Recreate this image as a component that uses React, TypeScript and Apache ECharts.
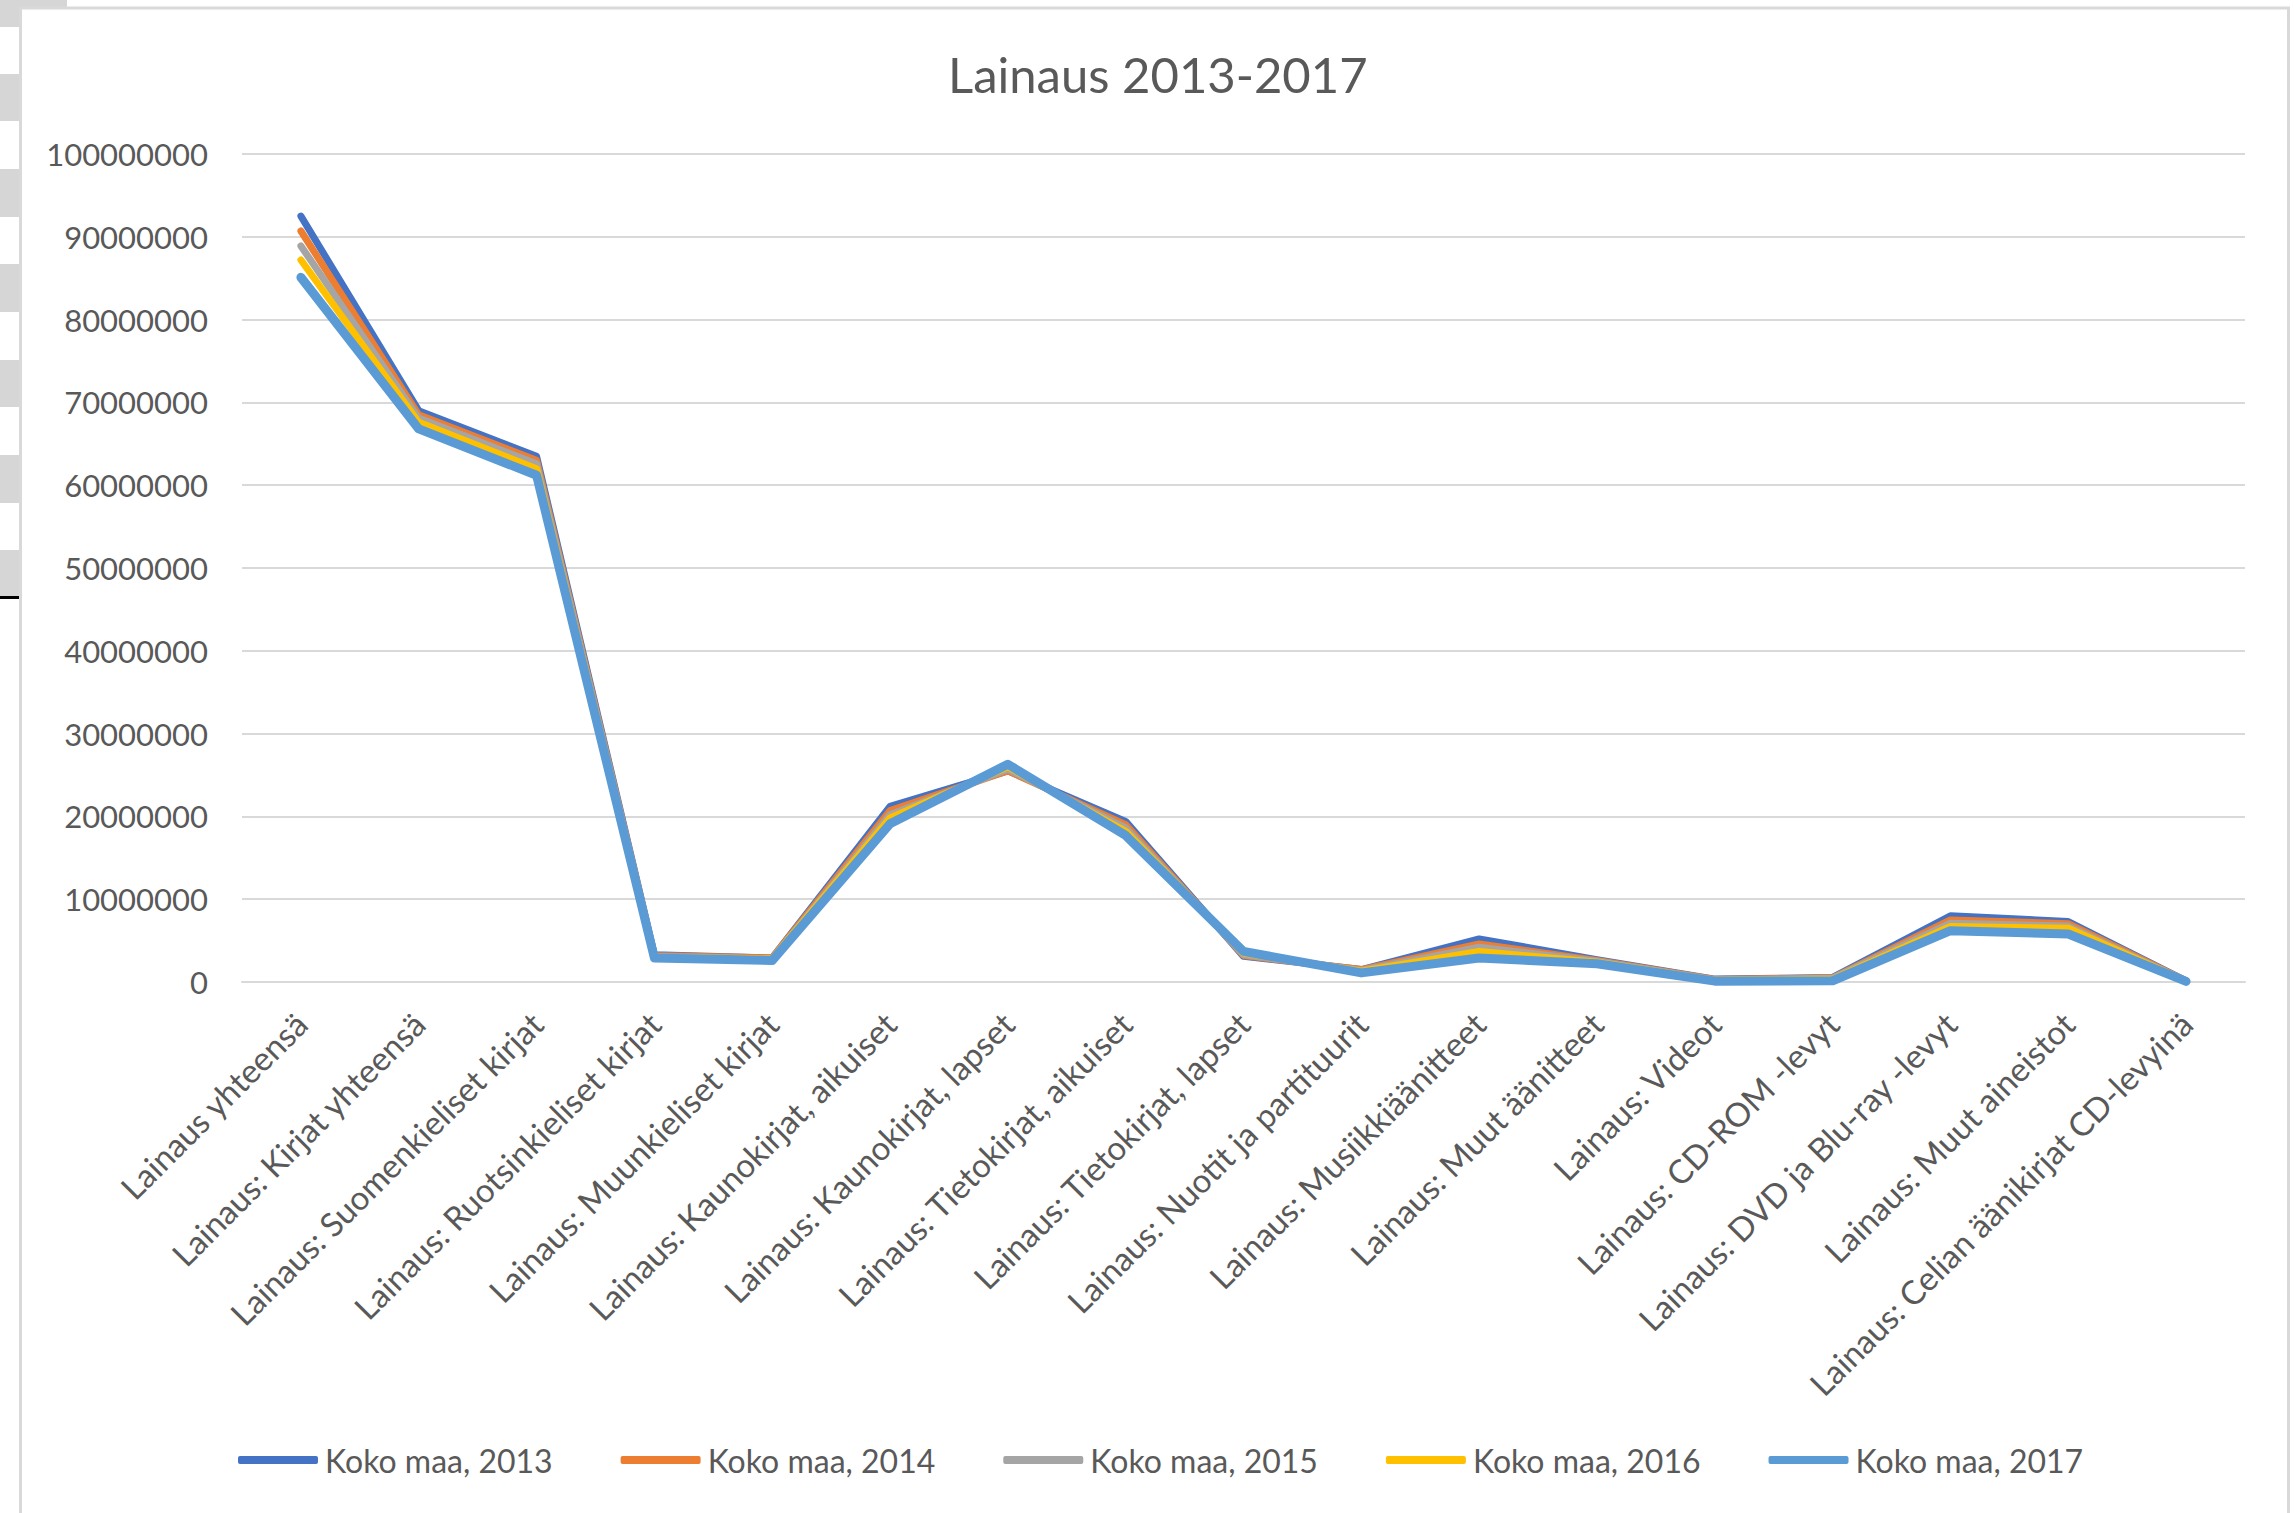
import React, { useEffect, useRef } from "react";
import * as echarts from "echarts";

const categories = [
  "Lainaus yhteensä",
  "Lainaus: Kirjat yhteensä",
  "Lainaus: Suomenkieliset kirjat",
  "Lainaus: Ruotsinkieliset kirjat",
  "Lainaus: Muunkieliset kirjat",
  "Lainaus: Kaunokirjat, aikuiset",
  "Lainaus: Kaunokirjat, lapset",
  "Lainaus: Tietokirjat, aikuiset",
  "Lainaus: Tietokirjat, lapset",
  "Lainaus: Nuotit ja partituurit",
  "Lainaus: Musiikkiäänitteet",
  "Lainaus: Muut äänitteet",
  "Lainaus: Videot",
  "Lainaus: CD-ROM -levyt",
  "Lainaus: DVD ja Blu-ray -levyt",
  "Lainaus: Muut aineistot",
  "Lainaus: Celian äänikirjat CD-levyinä",
];

const seriesNames = ["Koko maa, 2013", "Koko maa, 2014", "Koko maa, 2015", "Koko maa, 2016", "Koko maa, 2017"];

const v2013 = [92500000, 69000000, 63500000, 3300000, 2900000, 21200000, 25500000, 19400000, 3100000, 1500000, 5200000, 2700000, 350000, 550000, 8000000, 7300000, 150000];
const v2014 = [90700000, 68500000, 63000000, 3200000, 2900000, 20700000, 25500000, 19000000, 3200000, 1500000, 4600000, 2600000, 300000, 500000, 7500000, 7050000, 130000];
const v2015 = [88900000, 68100000, 62600000, 3100000, 2800000, 20200000, 25700000, 18600000, 3300000, 1400000, 4200000, 2500000, 250000, 450000, 7100000, 6750000, 110000];
const v2016 = [87200000, 67600000, 62000000, 3000000, 2800000, 19800000, 26000000, 18200000, 3500000, 1300000, 3700000, 2400000, 200000, 350000, 6700000, 6500000, 90000];
const v2017 = [85100000, 66800000, 61200000, 2900000, 2600000, 19100000, 26300000, 17700000, 3700000, 1100000, 2900000, 2200000, 100000, 150000, 6200000, 5800000, 70000];

const seriesValues = [v2013, v2014, v2015, v2016, v2017];
const colors = ["#4472C4", "#ED7D31", "#A5A5A5", "#FFC000", "#5B9BD5"];

const yMin = 0;
const yMax = 100000000;
const yInterval = 10000000;

const FONT = "Lato, 'Open Sans', sans-serif";
const TEXT = "#595959";
const GRID = "#D9D9D9";

export default function App() {
  const ref = useRef<HTMLDivElement>(null);

  useEffect(() => {
    if (!ref.current) return;
    const chart = echarts.init(ref.current, null, { renderer: "svg" });

    const stripeYs = [[0, 27], [74, 121], [169, 217], [264, 312], [360, 407], [455, 503], [550, 597]];
    const graphics: any[] = [];
    graphics.push({ type: "rect", shape: { x: 0, y: 0, width: 67, height: 9 }, style: { fill: "#D6D6D6" }, z: 0, silent: true });
    stripeYs.forEach(([a, b]) => {
      graphics.push({ type: "rect", shape: { x: 0, y: a, width: 19, height: b - a }, style: { fill: "#D6D6D6" }, z: 0, silent: true });
    });
    graphics.push({ type: "rect", shape: { x: 0, y: 596, width: 19, height: 3 }, style: { fill: "#000000" }, z: 0, silent: true });
    graphics.push({
      type: "rect",
      shape: { x: 20.5, y: 8, width: 2268, height: 1620 },
      style: { fill: "none", stroke: "#D9D9D9", lineWidth: 3 },
      z: 0,
      silent: true,
    });

    chart.setOption({
      animation: false,
      backgroundColor: "#ffffff",
      title: {
        text: "Lainaus 2013-2017",
        left: 943,
        top: 44,
        textStyle: { fontFamily: FONT, fontSize: 49, fontWeight: "normal", color: TEXT },
      },
      graphic: graphics,
      legend: {
        left: 233,
        top: 1439,
        icon: "roundRect",
        itemWidth: 80,
        itemHeight: 8,
        itemGap: 68,
        textStyle: { fontFamily: FONT, fontSize: 32, color: TEXT, padding: [0, 0, 0, 2] },
        data: seriesNames,
      },
      grid: { left: 242, right: 49, top: 154, bottom: 531, containLabel: false },
      xAxis: {
        type: "category",
        data: categories,
        boundaryGap: true,
        axisLine: { show: true, lineStyle: { color: GRID, width: 2 } },
        axisTick: { show: false },
        axisLabel: {
          rotate: 45,
          interval: 0,
          margin: 36,
          fontFamily: FONT,
          fontSize: 33,
          color: TEXT,
        },
      },
      yAxis: {
        type: "value",
        min: yMin,
        max: yMax,
        interval: yInterval,
        axisLine: { show: false },
        axisTick: { show: false },
        splitLine: { lineStyle: { color: GRID, width: 2 } },
        axisLabel: {
          margin: 34,
          fontFamily: FONT,
          fontSize: 31,
          color: TEXT,
          formatter: (v: number) => String(v),
        },
      },
      series: seriesValues.map((vals, i) => ({
        name: seriesNames[i],
        type: "line",
        data: vals,
        symbol: "none",
        showSymbol: false,
        smooth: false,
        z: 2 + i,
        color: colors[i],
        lineStyle: { color: colors[i], width: i === 4 ? 9 : 7, cap: "round", join: "round" },
        itemStyle: { color: colors[i] },
      })),
    });

    return () => chart.dispose();
  }, []);

  return (
    <div
      ref={ref}
      style={{ position: "fixed", left: 0, top: 0, width: 2294, height: 1513, background: "#fff" }}
    />
  );
}
